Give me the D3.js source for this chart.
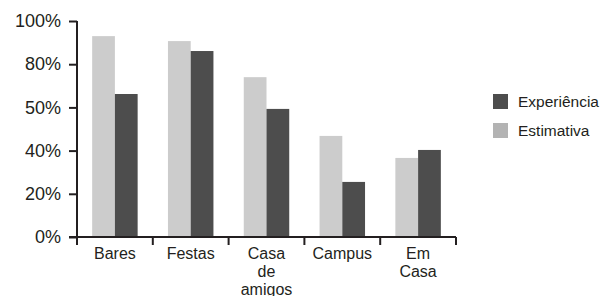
<!DOCTYPE html>
<html>
<head>
<meta charset="utf-8">
<script src="https://cdn.jsdelivr.net/npm/d3@7"></script>
<style>
  body { margin: 0; background: #fff; }
  text { font-family: "Liberation Sans", Arial, sans-serif; fill: #231f20; }
</style>
</head>
<body>
<svg id="chart" width="602" height="296"></svg>
<script>
const categories = [["Bares"], ["Festas"], ["Casa", "de", "amigos"], ["Campus"], ["Em", "Casa"]];
const estimativa = [93, 90.7, 74, 46.8, 36.6];
const experiencia = [66.2, 86.1, 59.3, 25.5, 40.3];
const yTicks = [0, 20, 40, 60, 80, 100];
const yTickLabels = ["0%", "20%", "40%", "50%", "80%", "100%"];
const seriesNames = ["Estimativa", "Experiência"];

const svg = d3.select("#chart");
const names = categories.map(c => c.join(" "));

const x0 = d3.scaleBand().domain(names).range([77, 456])
  .paddingInner(0.4).paddingOuter(0.2);
const x1 = d3.scaleBand().domain(seriesNames).range([0, x0.bandwidth()]);
const y = d3.scaleLinear().domain([0, 100]).range([237, 21]);
const color = d3.scaleOrdinal().domain(seriesNames).range(["#cccccc", "#4d4d4d"]);
const legendColor = d3.scaleOrdinal().domain(seriesNames).range(["#b3b3b3", "#4d4d4d"]);

const rows = names.map((n, i) => ({ name: n, values: [estimativa[i], experiencia[i]] }));

// bars
svg.append("g").selectAll("g").data(rows).join("g")
  .attr("transform", d => `translate(${x0(d.name)},0)`)
  .selectAll("rect").data(d => d.values.map((v, j) => ({ key: seriesNames[j], v })))
  .join("rect")
  .attr("x", d => x1(d.key))
  .attr("width", x1.bandwidth())
  .attr("y", d => y(d.v))
  .attr("height", d => y(0) - y(d.v))
  .attr("fill", d => color(d.key));

// y axis
const yAxis = svg.append("g").attr("transform", "translate(77,0)")
  .call(d3.axisLeft(y).tickValues(yTicks).tickFormat((d, i) => yTickLabels[i]).tickSize(8).tickPadding(8));
yAxis.select(".domain").attr("stroke", "#231f20").attr("stroke-width", 2)
  .attr("d", `M0,${y(100)}V${y(0) + 8}`);
yAxis.selectAll(".tick line").attr("stroke", "#231f20").attr("stroke-width", 2);
yAxis.selectAll(".tick text").attr("font-size", 18).attr("fill", "#231f20")
  .attr("font-family", "Liberation Sans, Arial, sans-serif");

// x axis
const xg = svg.append("g").attr("transform", `translate(0,${y(0)})`);
const step = x0.step();
const bounds = d3.range(names.length + 1).map(i => x0.range()[0] + i * step);
xg.append("path").attr("d", `M${bounds[0] - 8},0H${bounds[bounds.length - 1]}`)
  .attr("stroke", "#231f20").attr("stroke-width", 2);
xg.selectAll("line.tk").data(bounds).join("line").attr("class", "tk")
  .attr("x1", d => d).attr("x2", d => d).attr("y1", 0).attr("y2", 8)
  .attr("stroke", "#231f20").attr("stroke-width", 2);
xg.selectAll("text.lbl").data(categories).join("text").attr("class", "lbl")
  .attr("text-anchor", "middle")
  .attr("font-size", 16)
  .attr("x", (d, i) => x0(names[i]) + x0.bandwidth() / 2)
  .attr("y", 22)
  .selectAll("tspan").data(d => d).join("tspan")
  .attr("x", function () { return d3.select(this.parentNode).attr("x"); })
  .attr("dy", (d, i) => i === 0 ? 0 : 18)
  .text(d => d);

// legend
const legendOrder = ["Experiência", "Estimativa"];
const lg = svg.append("g").attr("transform", "translate(493,94)");
const li = lg.selectAll("g").data(legendOrder).join("g")
  .attr("transform", (d, i) => `translate(0,${i * 29})`);
li.append("rect").attr("width", 15).attr("height", 15).attr("fill", d => legendColor(d));
li.append("text").attr("x", 25).attr("y", 13).attr("font-size", 15.5).text(d => d);
</script>
</body>
</html>
